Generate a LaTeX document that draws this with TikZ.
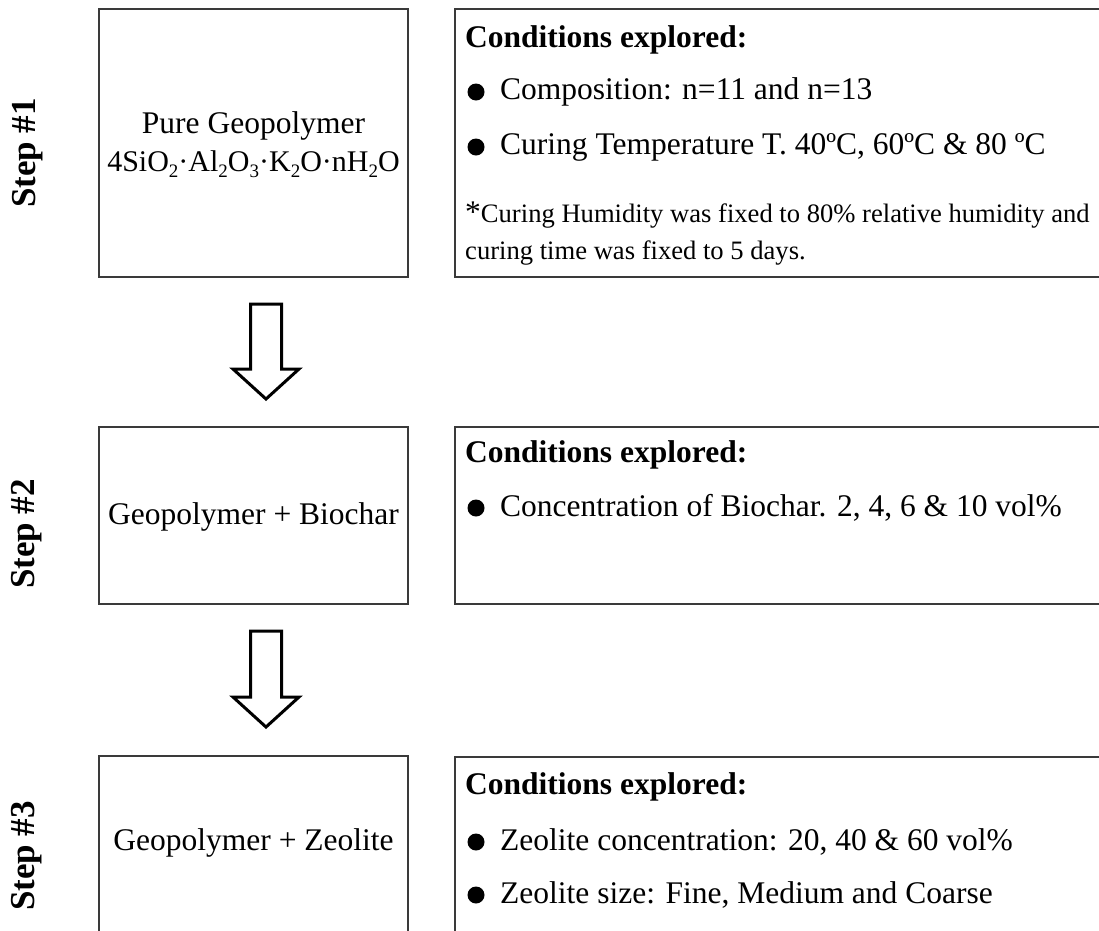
\documentclass[tikz,border=0pt]{standalone}
\usepackage{fontspec}
\setmainfont{Liberation Serif}
\usetikzlibrary{calc}
\definecolor{boxgray}{HTML}{3A3A3A}
\newcommand\chemsub[1]{\raisebox{-0.18em}{\fontsize{19}{20}\selectfont #1}}
\begin{document}
\begin{tikzpicture}[x=1pt,y=-1pt,
  box/.style={draw=boxgray, line width=1.5pt, inner sep=0pt},
  maintxt/.style={inner sep=0pt, font=\fontsize{31.5}{36}\selectfont},
  formtxt/.style={inner sep=0pt, font=\fontsize{30}{34}\selectfont},
  notetxt/.style={inner sep=0pt, anchor=west, font=\fontsize{26.6}{30}\selectfont},
  headtxt/.style={inner sep=0pt, anchor=west, font=\fontsize{31.5}{36}\selectfont\bfseries},
  itemtxt/.style={inner sep=0pt, anchor=west, font=\fontsize{31.5}{36}\selectfont},
  bul/.style={circle, fill=black, inner sep=0pt, minimum size=17pt},
  steptxt/.style={inner sep=0pt, rotate=90, font=\fontsize{35}{40}\selectfont\bfseries},
  blockarrow/.style={draw=black, line width=3pt, fill=white, line join=miter}
]
\useasboundingbox (0,0) rectangle (1099,930);
\clip (0,0) rectangle (1099,930);

% ---- Step 1 ----
\node[steptxt] (s1) at (28,153) {Step \#1};
\node[box, minimum width=309pt, minimum height=268pt] (b1) at (253.5,143) {};
\node[maintxt] (b1a) at (253.5,126) {Pure Geopolymer};
\node[formtxt] (b1b) at (253.5,164) {4SiO\chemsub{2}·Al\chemsub{2}O\chemsub{3}·K\chemsub{2}O·nH\chemsub{2}O};
\node[box, minimum width=660pt, minimum height=268pt] (r1) at (785,143) {};
\node[headtxt] (r1h) at (465,40) {Conditions explored:};
\node[bul] (r1b1) at (476,92) {};
\node[itemtxt] (r1t1) at (500,92) {Composition: n=11 and n=13};
\node[bul] (r1b2) at (476,147) {};
\node[itemtxt] (r1t2) at (500,147) {Curing Temperature T. 40ºC, 60ºC \& 80 ºC};
\node[notetxt] (r1n1) at (465,215) {{\fontsize{31.5}{36}\selectfont *}Curing Humidity was fixed to 80\% relative humidity and};
\node[notetxt] (r1n2) at (465,253) {curing time was fixed to 5 days.};

% ---- Arrow 1 ----
\coordinate (a1) at (266,399);
\draw[blockarrow] (a1) -- ($(a1)+(-33,-30)$) -- ($(a1)+(-15.5,-30)$) -- ($(a1)+(-15.5,-95)$)
  -- ($(a1)+(15.5,-95)$) -- ($(a1)+(15.5,-30)$) -- ($(a1)+(33,-30)$) -- cycle;

% ---- Step 2 ----
\node[steptxt] (s2) at (27,534) {Step \#2};
\node[box, minimum width=309pt, minimum height=177pt] (b2) at (253.5,515.5) {};
\node[maintxt] (b2a) at (253.5,517) {Geopolymer + Biochar};
\node[box, minimum width=660pt, minimum height=177pt] (r2) at (785,515.5) {};
\node[headtxt] (r2h) at (465,455) {Conditions explored:};
\node[bul] (r2b1) at (476,508) {};
\node[itemtxt] (r2t1) at (500,508) {Concentration of Biochar. 2, 4, 6 \& 10 vol\%};

% ---- Arrow 2 ----
\coordinate (a2) at (266,727);
\draw[blockarrow] (a2) -- ($(a2)+(-33,-30)$) -- ($(a2)+(-15.5,-30)$) -- ($(a2)+(-15.5,-96)$)
  -- ($(a2)+(15.5,-96)$) -- ($(a2)+(15.5,-30)$) -- ($(a2)+(33,-30)$) -- cycle;

% ---- Step 3 ----
\node[steptxt] (s3) at (27,856) {Step \#3};
\node[box, minimum width=309pt, minimum height=200pt] (b3) at (253.5,856) {};
\node[maintxt] (b3a) at (253.5,843) {Geopolymer + Zeolite};
\node[box, minimum width=660pt, minimum height=200pt] (r3) at (785,857) {};
\node[headtxt] (r3h) at (465,787) {Conditions explored:};
\node[bul] (r3b1) at (476,842) {};
\node[itemtxt] (r3t1) at (500,842) {Zeolite concentration: 20, 40 \& 60 vol\%};
\node[bul] (r3b2) at (476,895) {};
\node[itemtxt] (r3t2) at (500,895) {Zeolite size: Fine, Medium and Coarse};
\end{tikzpicture}
\end{document}
